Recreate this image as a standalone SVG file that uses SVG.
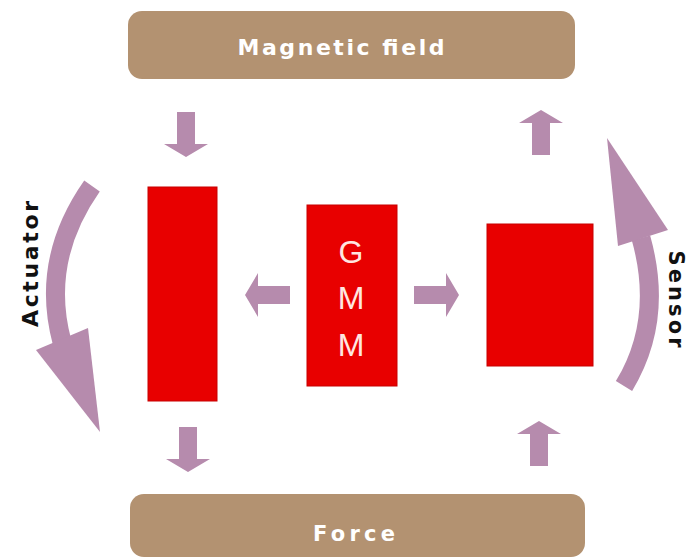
<svg xmlns="http://www.w3.org/2000/svg" width="690" height="560" viewBox="0 0 690 560">
<style>
.bar{fill:#b39271;}
.bartext{fill:#ffffff;font-family:"DejaVu Sans",Verdana,sans-serif;font-weight:bold;}
.block{fill:#e80000;stroke:#c80000;stroke-width:1;}
.gmm{fill:#ffe6e0;font-family:"Liberation Sans",Arial,sans-serif;font-size:32px;text-anchor:middle;}
.arrow{fill:#b68bad;}
.shaft{fill:none;stroke:#b68bad;stroke-width:19;stroke-linecap:butt;}
.side{fill:#111;font-family:"DejaVu Sans",Verdana,sans-serif;font-weight:bold;}
</style>
<defs>
<path id="darrow" d="M-9,-22 H9 V10 H22 L0,23 L-22,10 H-9 Z"/>
</defs>
<rect width="690" height="560" fill="#ffffff"/>
<g id="magnetic-field">
<rect class="bar" x="128" y="11" width="447" height="68" rx="14"/>
<text class="bartext" x="341" y="55" font-size="22" text-anchor="middle" textLength="207" lengthAdjust="spacing">Magnetic field</text>
</g>
<g id="force">
<rect class="bar" x="130" y="494" width="455" height="63" rx="14"/>
<text class="bartext" x="354" y="541" font-size="21" text-anchor="middle" textLength="82" lengthAdjust="spacing">Force</text>
</g>
<g id="left-block">
<rect class="block" x="148" y="187" width="69" height="214"/>
</g>
<g id="gmm">
<rect class="block" x="307" y="205" width="90" height="181"/>
<text class="gmm" x="351" y="263">G</text>
<text class="gmm" x="351" y="309">M</text>
<text class="gmm" x="351" y="356">M</text>
</g>
<g id="right-block">
<rect class="block" x="487" y="224" width="106" height="142"/>
</g>
<g id="label-actuator">
<text class="side" font-size="22" transform="translate(38,264) rotate(-90)" text-anchor="middle" textLength="126" lengthAdjust="spacing">Actuator</text>
</g>
<g id="label-sensor">
<text class="side" font-size="21" transform="translate(669,299) rotate(90)" text-anchor="middle" textLength="97" lengthAdjust="spacing">Sensor</text>
</g>
<g id="connectors">
<use href="#darrow" class="arrow" transform="translate(186,134)"/>
<use href="#darrow" class="arrow" transform="translate(188,449)"/>
<use href="#darrow" class="arrow" transform="translate(541,133) rotate(180)"/>
<use href="#darrow" class="arrow" transform="translate(539,444) rotate(180)"/>
<use href="#darrow" class="arrow" transform="translate(268,295) rotate(90)"/>
<use href="#darrow" class="arrow" transform="translate(436,295) rotate(-90)"/>
<g id="actuator-arrow">
<path class="shaft" d="M92,186 Q40,260 62,342"/>
<polygon class="arrow" points="36,350 88,328 100,432"/>
</g>
<g id="sensor-arrow">
<path class="shaft" d="M624,386 Q664,320 641,238"/>
<polygon class="arrow" points="618,246 668,230 607,138"/>
</g>
</g>
</svg>
